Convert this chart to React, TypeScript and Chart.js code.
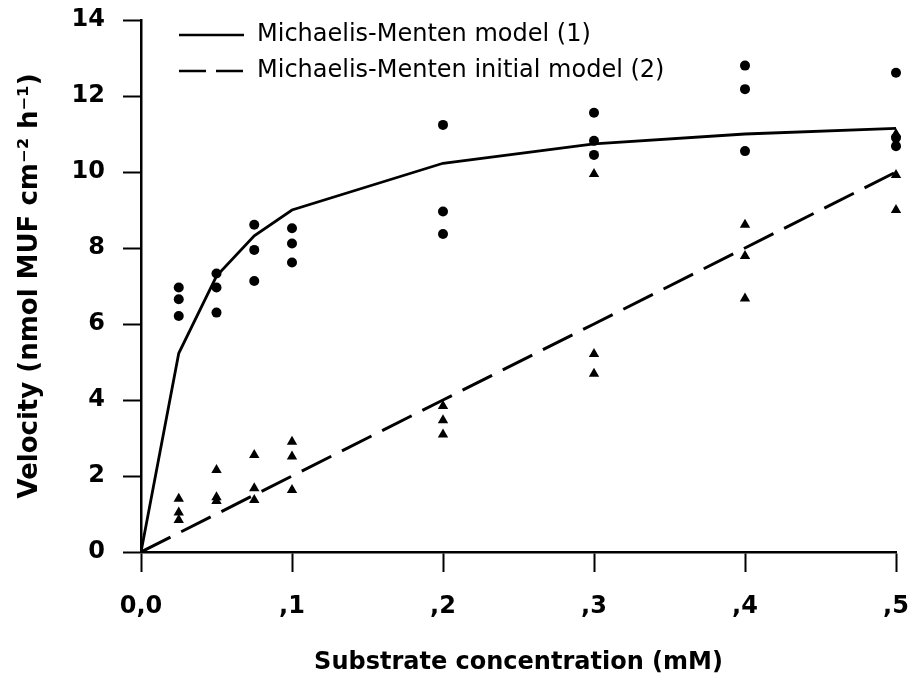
import React, { useEffect, useRef } from 'react';
import { Chart, registerables } from 'chart.js';

Chart.register(...registerables);

// Substrate concentrations (mM) at which replicates were measured
const substrate = [0.025, 0.05, 0.075, 0.1, 0.2, 0.3, 0.4, 0.5];
// Observed velocities, circles (model 1 data)
const velocityCircles = [
  [6.96, 6.65, 6.21],
  [7.33, 6.96, 6.30],
  [8.61, 7.95, 7.13],
  [8.52, 8.12, 7.62],
  [11.24, 8.96, 8.37],
  [11.56, 10.82, 10.45],
  [12.8, 12.18, 10.55],
  [12.61, 10.9, 10.68],
];
// Observed velocities, triangles (initial model data)
const velocityTriangles = [
  [1.40, 1.04, 0.84],
  [2.16, 1.44, 1.34],
  [2.55, 1.68, 1.37],
  [2.90, 2.51, 1.63],
  [3.84, 3.47, 3.09],
  [9.95, 5.21, 4.69],
  [8.61, 7.79, 6.67],
  [11.0, 9.92, 9.0],
];
// Model curves
const modelX = [0, 0.025, 0.05, 0.075, 0.1, 0.2, 0.3, 0.4, 0.5];
const model1 = [0, 5.23, 7.26, 8.32, 9.0, 10.23, 10.74, 11.0, 11.15];
const model2 = [0, 0.5, 1.0, 1.5, 2.0, 4.0, 6.0, 8.0, 10.0];

const seriesLabels = ['Michaelis-Menten model (1)', 'Michaelis-Menten initial model (2)'];
const xTickLabels = ['0,0', ',1', ',2', ',3', ',4', ',5'];
const yTickLabels = ['0', '2', '4', '6', '8', '10', '12', '14'];
const xTitle = 'Substrate concentration (mM)';
const yTitle = 'Velocity (nmol MUF cm\u207B\u00B2 h\u207B\u00B9)';

const FONT = '"DejaVu Sans", "Liberation Sans", Arial, sans-serif';

const toPoints = (xs: number[], groups: number[][]) =>
  xs.flatMap((x, i) => groups[i].map((y) => ({ x, y })));

const legendPlugin = {
  id: 'insideLegend',
  afterDraw(chart: any) {
    const { ctx, chartArea } = chart;
    const rows = [
      { y: chartArea.top + 15, dash: [] as number[] },
      { y: chartArea.top + 51, dash: [27, 10] },
    ];
    ctx.save();
    rows.forEach((r, i) => {
      const x0 = chartArea.left + 38;
      const x1 = chartArea.left + 103;
      ctx.beginPath();
      ctx.setLineDash(r.dash);
      ctx.lineWidth = 2.5;
      ctx.strokeStyle = '#000';
      ctx.moveTo(x0, r.y);
      ctx.lineTo(x1, r.y);
      ctx.stroke();
      ctx.setLineDash([]);
      ctx.fillStyle = '#000';
      ctx.font = `24px ${FONT}`;
      ctx.textBaseline = 'middle';
      ctx.textAlign = 'left';
      ctx.fillText(chart.data.datasets[i].label, chartArea.left + 116, r.y);
    });
    ctx.restore();
  },
};

export default function App() {
  const canvasRef = useRef<HTMLCanvasElement | null>(null);

  useEffect(() => {
    if (!canvasRef.current) return;
    const chart = new Chart(canvasRef.current, {
      type: 'scatter',
      data: {
        datasets: [
          {
            label: seriesLabels[0],
            data: modelX.map((x, i) => ({ x, y: model1[i] })),
            showLine: true,
            borderColor: '#000',
            borderWidth: 2.8,
            pointRadius: 0,
            tension: 0,
          },
          {
            label: seriesLabels[1],
            data: modelX.map((x, i) => ({ x, y: model2[i] })),
            showLine: true,
            borderColor: '#000',
            borderWidth: 3,
            borderDash: [33, 12],
            pointRadius: 0,
            tension: 0,
          },
          {
            label: 'circles',
            data: toPoints(substrate, velocityCircles),
            pointStyle: 'circle',
            pointRadius: 5,
            backgroundColor: '#000',
            borderColor: '#000',
            borderWidth: 0,
            clip: false,
          } as any,
          {
            label: 'triangles',
            data: toPoints(substrate, velocityTriangles),
            pointStyle: 'triangle',
            pointRadius: 6,
            backgroundColor: '#000',
            borderColor: '#000',
            borderWidth: 0,
            clip: false,
          } as any,
        ],
      },
      options: {
        animation: false,
        responsive: true,
        maintainAspectRatio: false,
        layout: { padding: { top: 20, right: 14, bottom: 0, left: 0 } },
        plugins: {
          legend: { display: false },
          tooltip: { enabled: false },
        },
        scales: {
          x: {
            type: 'linear',
            min: 0,
            max: 0.5,
            afterFit: (scale: any) => {
              scale.height = 126;
              scale.paddingLeft = 0;
              scale.paddingRight = 0;
            },
            border: { display: true, color: '#000', width: 2.5 },
            grid: {
              display: true,
              drawOnChartArea: false,
              drawTicks: true,
              tickLength: 20,
              tickWidth: 2,
              tickColor: '#000',
            },
            ticks: {
              stepSize: 0.1,
              padding: 20,
              color: '#000',
              font: { family: FONT, size: 24, weight: 'bold' },
              callback: (v: any) => xTickLabels[Math.round(Number(v) * 10)],
            },
            title: {
              display: true,
              text: xTitle,
              color: '#000',
              font: { family: FONT, size: 24, weight: 'bold' },
              padding: { top: 0, bottom: 1 },
            },
          },
          y: {
            type: 'linear',
            min: 0,
            max: 14,
            afterFit: (scale: any) => {
              scale.width = 141;
              scale.paddingTop = 0;
              scale.paddingBottom = 0;
            },
            border: { display: true, color: '#000', width: 2.5 },
            grid: {
              display: true,
              drawOnChartArea: false,
              drawTicks: true,
              tickLength: 18,
              tickWidth: 2,
              tickColor: '#000',
            },
            ticks: {
              stepSize: 2,
              padding: 18,
              color: '#000',
              font: { family: FONT, size: 24, weight: 'bold' },
              callback: (v: any) => yTickLabels[Math.round(Number(v) / 2)],
            },
            title: {
              display: true,
              text: yTitle,
              color: '#000',
              font: { family: FONT, size: 26, weight: 'bold' },
              padding: { top: 15, bottom: 0 },
            },
          },
        },
      } as any,
      plugins: [legendPlugin],
    });
    return () => chart.destroy();
  }, []);

  return (
    <div
      style={{
        position: 'fixed',
        left: 0,
        top: 0,
        width: 910,
        height: 678,
        background: '#fff',
      }}
    >
      <canvas ref={canvasRef} />
    </div>
  );
}
